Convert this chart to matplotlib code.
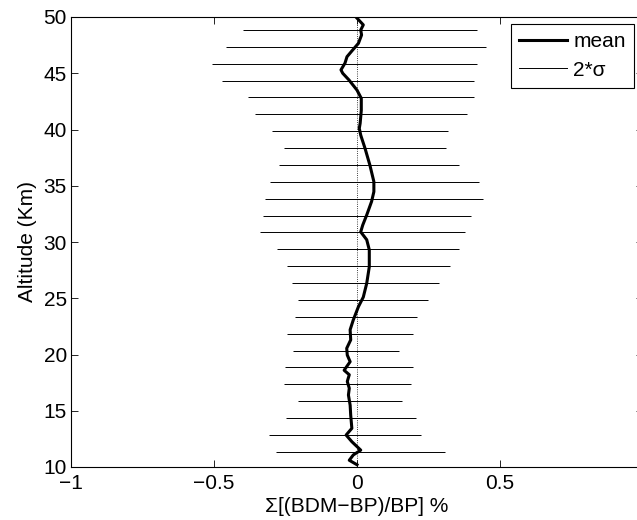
import matplotlib
matplotlib.use("Agg")
import matplotlib.pyplot as plt
import numpy as np

plt.rcParams["font.family"] = ["Liberation Sans", "DejaVu Sans"]
plt.rcParams["axes.unicode_minus"] = True

# altitude of the 2*sigma bars (km) and their left/right ends (%)
bar_alt = [11.35, 12.85, 14.35, 15.85, 17.35, 18.85, 20.35, 21.85, 23.35,
           24.85, 26.35, 27.85, 29.35, 30.85, 32.35, 33.85, 35.35, 36.85,
           38.35, 39.85, 41.35, 42.85, 44.35, 45.85, 47.35, 48.85]
bar_left = [-0.284, -0.306, -0.248, -0.207, -0.256, -0.252, -0.224, -0.244,
            -0.217, -0.207, -0.226, -0.244, -0.279, -0.339, -0.329, -0.323,
            -0.303, -0.274, -0.254, -0.297, -0.355, -0.380, -0.471, -0.506,
            -0.457, -0.399]
bar_right = [0.308, 0.224, 0.206, 0.156, 0.188, 0.196, 0.148, 0.196, 0.211,
             0.248, 0.287, 0.324, 0.357, 0.377, 0.399, 0.442, 0.427, 0.357,
             0.310, 0.317, 0.384, 0.410, 0.408, 0.420, 0.451, 0.420]

# mean profile
mean_alt = [10.2, 10.6, 11.07, 11.5, 12.25, 12.84, 13.44, 14.6, 15.5, 16.4,
            17.0, 17.6, 18.2, 18.6, 19.36, 19.95, 20.55, 21.3, 22.2, 23.07,
            24.25, 25.1, 26.33, 27.8, 29.3, 30.2, 30.9, 31.5, 32.4, 33.6,
            34.47, 35.36, 36.84, 38.33, 39.5, 40.1, 40.55, 41.7, 42.77, 43.5,
            44.4, 45.0, 45.3, 45.9, 46.47, 47.07, 47.66, 48.4, 48.84, 49.3,
            49.9]
mean_val = [0.0, -0.027, -0.013, 0.013, -0.018, -0.038, -0.018, -0.022,
            -0.024, -0.030, -0.027, -0.034, -0.027, -0.045, -0.024, -0.034,
            -0.036, -0.022, -0.024, -0.013, 0.005, 0.022, 0.034, 0.043, 0.043,
            0.034, 0.013, 0.020, 0.034, 0.051, 0.059, 0.059, 0.045, 0.028,
            0.013, 0.008, 0.011, 0.015, 0.015, 0.0, -0.028, -0.050, -0.056,
            -0.042, -0.035, -0.015, 0.005, 0.016, 0.013, 0.022, 0.0]

fig = plt.figure(figsize=(6.37, 5.2), dpi=100)
ax = fig.add_axes([71 / 637, 53 / 520, 572 / 637, 450 / 520])

ax.plot([0, 0], [10, 50], linestyle=":", color="k", linewidth=0.6)
ax.plot(mean_val, mean_alt, color="k", linewidth=2.2, label="mean")
ax.hlines(bar_alt, bar_left, bar_right, colors="k", linewidth=0.7)
ax.plot([], [], color="k", linewidth=0.7, label="2*σ")

ax.set_xlim(-1, 1)
ax.set_ylim(10, 50)
ax.set_xticks([-1, -0.5, 0, 0.5, 1])
ax.set_xticklabels(["−1", "−0.5", "0", "0.5", "1"])
ax.set_yticks(range(10, 51, 5))
ax.tick_params(direction="in", top=True, right=True, length=5, width=0.6,
               labelsize=15)
ax.tick_params(axis="x", pad=5)
ax.tick_params(axis="y", pad=3)
for s in ax.spines.values():
    s.set_linewidth(0.8)

ax.set_xlabel("Σ[(BDM−BP)/BP] %", fontsize=15, labelpad=3)
ax.set_ylabel("Altitude (Km)", fontsize=15, labelpad=5)

leg = fig.legend(loc="upper right", bbox_to_anchor=(634 / 637, 1 - 24 / 520),
                 fontsize=15, fancybox=False, framealpha=1, edgecolor="k",
                 borderaxespad=0, handlelength=2.3, handletextpad=0.3,
                 borderpad=0.4, labelspacing=0.45)
leg.get_frame().set_linewidth(0.8)

fig.savefig("out.png", dpi=100)
